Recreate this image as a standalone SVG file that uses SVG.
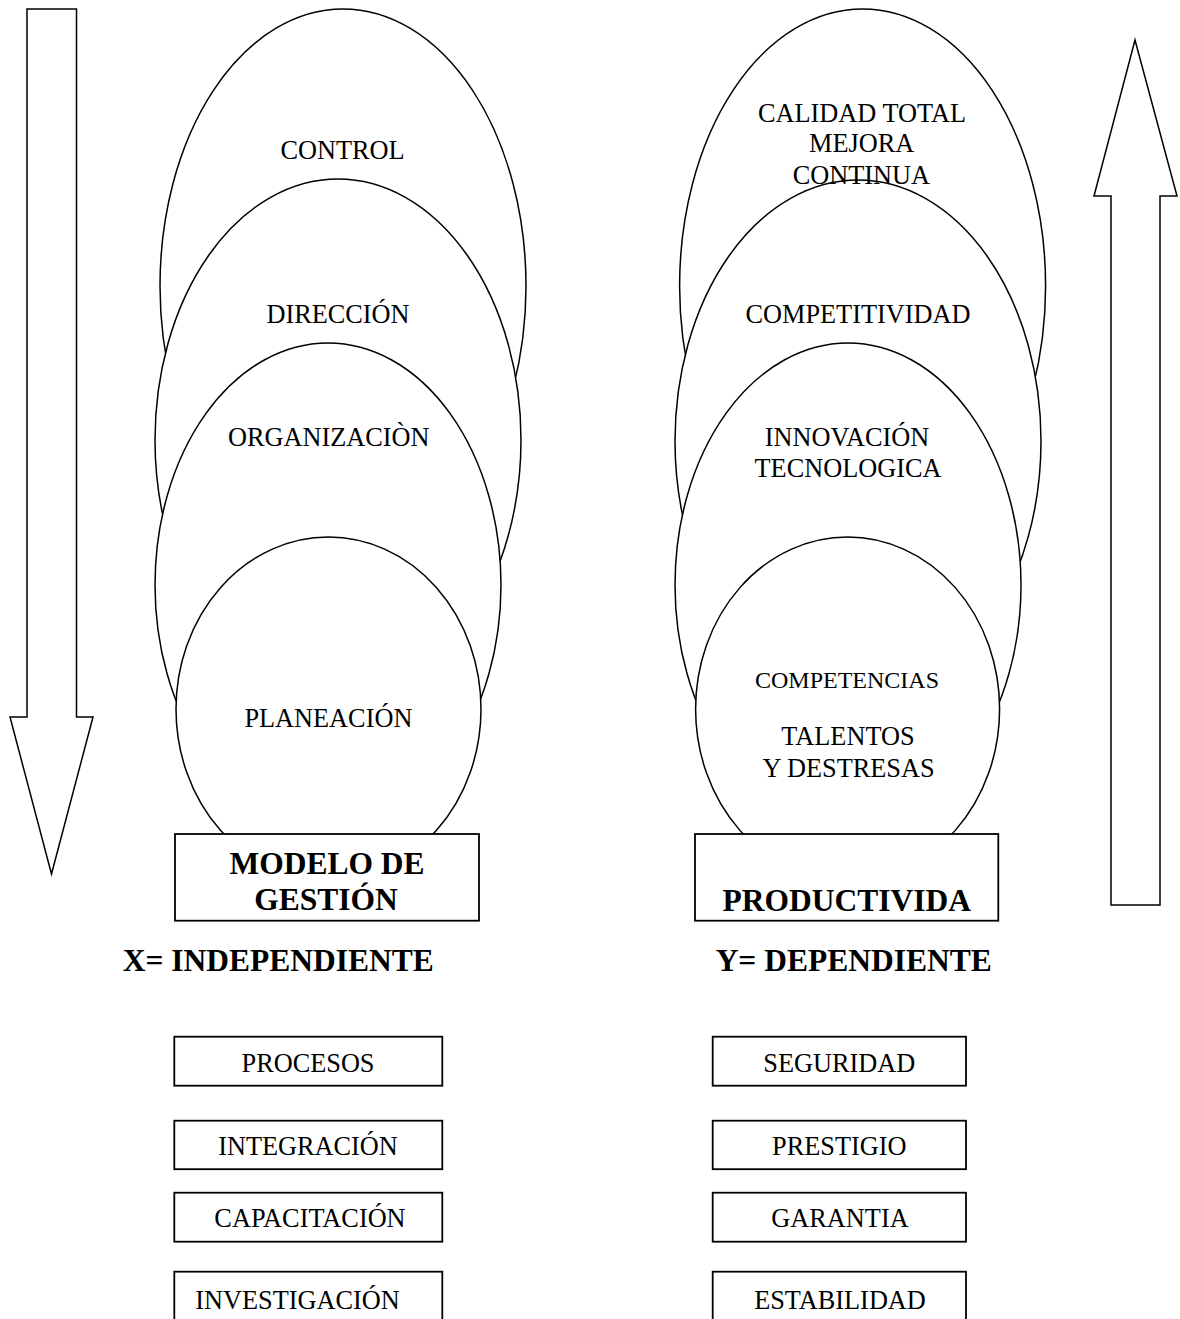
<svg xmlns="http://www.w3.org/2000/svg" width="1180" height="1319" viewBox="0 0 1180 1319">
<style>
.sh{fill:#fff;stroke:#000;stroke-width:1.5}
.bx{fill:#fff;stroke:#000;stroke-width:1.8}
.t{font-family:"Liberation Serif","Times New Roman",serif;font-size:26.3px;fill:#000;text-anchor:middle}
.s{font-size:24px}
.b{font-family:"Liberation Serif","Times New Roman",serif;font-size:31.5px;font-weight:bold;fill:#000;text-anchor:middle}
</style>
<rect width="1180" height="1319" fill="#fff"/>
<g id="connectors">
<polygon id="arrow-down" class="sh" points="27,9 76.5,9 76.5,717 93,717 51.5,874 10,717 27,717"/>
<polygon id="arrow-up" class="sh" points="1135,40 1177,196 1160,196 1160,905 1111,905 1111,196 1094,196"/>
</g>
<g id="control"><ellipse class="sh" cx="343" cy="286" rx="183" ry="277"/></g>
<g id="direccion"><ellipse class="sh" cx="338" cy="440" rx="183" ry="261"/></g>
<g id="organizacion"><ellipse class="sh" cx="328" cy="585" rx="173" ry="242"/></g>
<g id="planeacion"><ellipse class="sh" cx="328.5" cy="709" rx="152.5" ry="172"/></g>
<g id="modelo"><rect class="bx" x="175" y="834" width="304" height="86.7"/></g>
<g id="calidad"><ellipse class="sh" cx="862.6" cy="286" rx="183" ry="277"/></g>
<g id="competitividad"><ellipse class="sh" cx="858" cy="441" rx="183" ry="261"/></g>
<g id="innovacion"><ellipse class="sh" cx="848" cy="585" rx="173" ry="242"/></g>
<g id="competencias"><ellipse class="sh" cx="847.6" cy="709" rx="152" ry="172"/></g>
<g id="productividad"><rect class="bx" x="695" y="834" width="303.3" height="86.7"/></g>
<g id="procesos"><rect class="bx" x="174.3" y="1036.7" width="268" height="49"/><text class="t" x="308" y="1071.7">PROCESOS</text></g>
<g id="integracion"><rect class="bx" x="174.3" y="1120.7" width="268" height="48.5"/><text class="t" x="308" y="1155">INTEGRACIÓN</text></g>
<g id="capacitacion"><rect class="bx" x="174.3" y="1192.7" width="268" height="49"/><text class="t" x="310" y="1226.7">CAPACITACIÓN</text></g>
<g id="investigacion"><rect class="bx" x="174.3" y="1271.7" width="268" height="60"/><text class="t" x="297.5" y="1309">INVESTIGACIÓN</text></g>
<g id="seguridad"><rect class="bx" x="712.7" y="1036.7" width="253.3" height="49"/><text class="t" x="839.3" y="1071.7">SEGURIDAD</text></g>
<g id="prestigio"><rect class="bx" x="712.7" y="1120.7" width="253.3" height="48.5"/><text class="t" x="839.3" y="1155">PRESTIGIO</text></g>
<g id="garantia"><rect class="bx" x="712.7" y="1192.7" width="253.3" height="49"/><text class="t" x="840" y="1226.7">GARANTIA</text></g>
<g id="estabilidad"><rect class="bx" x="712.7" y="1271.7" width="253.3" height="60"/><text class="t" x="840" y="1309">ESTABILIDAD</text></g>
<g id="labels">
<text class="t" x="342.5" y="159">CONTROL</text>
<text class="t" x="338" y="323">DIRECCIÓN</text>
<text class="t" x="328.8" y="446">ORGANIZACIÒN</text>
<text class="t" x="328.4" y="727">PLANEACIÓN</text>
<text class="b" x="327" y="874">MODELO DE</text>
<text class="b" x="326" y="910">GESTIÓN</text>
<text class="b" x="278.3" y="971">X= INDEPENDIENTE</text>
<text class="t" x="862" y="121.7">CALIDAD TOTAL</text>
<text class="t" x="861.7" y="151.7">MEJORA</text>
<text class="t" x="861.4" y="184.3">CONTINUA</text>
<text class="t" x="858" y="323.3">COMPETITIVIDAD</text>
<text class="t" x="847" y="446">INNOVACIÓN</text>
<text class="t" x="848" y="477.3">TECNOLOGICA</text>
<text class="t s" x="847" y="688.3">COMPETENCIAS</text>
<text class="t" x="848" y="745">TALENTOS</text>
<text class="t" x="848.5" y="777.3">Y DESTRESAS</text>
<text class="b" x="846.7" y="910.7">PRODUCTIVIDA</text>
<text class="b" x="853.7" y="971">Y= DEPENDIENTE</text>
</g>
</svg>
